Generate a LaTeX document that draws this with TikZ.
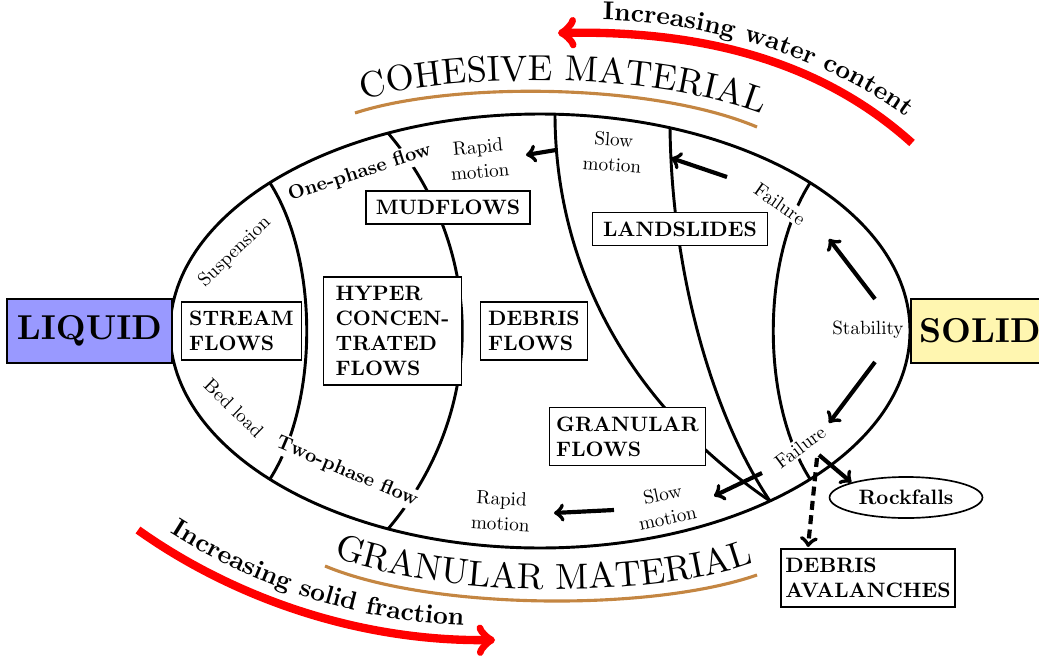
\documentclass[tikz,border=0pt]{standalone}
\usetikzlibrary{decorations.text,shapes.geometric}
\definecolor{liq}{RGB}{153,153,255}
\definecolor{sol}{RGB}{255,246,176}
\definecolor{arcbrown}{RGB}{196,134,66}
\font\ftitle=cmr10 at 17.4pt
\font\fred=cmbx10 at 12.4pt
\font\flbl=cmr10 at 9.2pt
\font\flblb=cmbx10 at 9.4pt
\font\fboxt=cmbx10 at 10pt
\font\fbig=cmbx10 at 16.6pt
\begin{document}
\begin{tikzpicture}[x=0.48pt,y=-0.48pt,
  box/.style={draw, line width=0.8pt, font=\fboxt, align=left, inner ysep=4.5pt, inner xsep=4pt, fill=white},
  lbl/.style={font=\flbl, inner sep=1pt},
  wlbl/.style={font=\flbl, inner sep=1pt, fill=white},
  curve/.style={line width=1.4pt},
  flowarrow/.style={line width=2pt,->},
  redarrow/.style={red, line width=4pt,->},
  arcline/.style={arcbrown, line width=1.5pt},
]
\useasboundingbox (0,0) rectangle (1039,656);

% main ellipse
\node[draw, ellipse, curve, minimum width=355.2pt, minimum height=208.3pt, inner sep=0pt] (E) at (540,331) {};

% dividing curves
\draw[curve] (270,183) .. controls (319,260) and (319,402) .. (270,479);
\draw[curve] (388,133) .. controls (487,250) and (487,412) .. (388,529);
\draw[curve] (555,114) .. controls (555,250) and (615,395) .. (770,501);
\draw[curve] (670,128) .. controls (672,285) and (718,425) .. (770,501);
\draw[curve] (810,183) .. controls (761,260) and (761,402) .. (810,479);

% labels on the curves
\node[wlbl, font=\flblb, rotate=18] (one) at (360,173) {One-phase flow};
\node[wlbl, font=\flblb, rotate=-23] (two) at (347,472) {Two-phase flow};
\node[lbl, rotate=44] (susp) at (235,252) {Suspension};
\node[lbl, rotate=-44] (bed) at (234,408) {Bed load};
\node[wlbl, rotate=-35] (failA) at (780,204) {Failure};
\node[wlbl, rotate=37] (failB) at (800,447) {Failure};
\node[lbl] (stab) at (868,330) {Stability};
\node[lbl, align=center, rotate=5] (rapA) at (479,159) {Rapid\\motion};
\node[lbl, align=center, rotate=-4] (slowA) at (613,152) {Slow\\motion};
\node[lbl, align=center, rotate=-3] (rapB) at (501,511) {Rapid\\motion};
\node[lbl, align=center, rotate=12] (slowB) at (665,506) {Slow\\motion};

% boxes
\node[box, fill=liq, font=\fbig, minimum width=79pt, minimum height=30.5pt] (liquid) at (89.5,331) {LIQUID};
\node[box, fill=sol, font=\fbig, anchor=west, minimum height=30.5pt, inner xsep=4pt] (solid) at (910,331) {SOLID};
\node[box, inner xsep=3.7pt] (stream) at (241.5,331) {STREAM\\FLOWS};
\node[box, inner xsep=5.8pt] (hyper) at (392.5,331) {HYPER\\CONCEN-\\TRATED\\FLOWS};
\node[box, inner xsep=3.7pt] (debris) at (534,331) {DEBRIS\\FLOWS};
\node[box, inner xsep=4.6pt] (mud) at (448,207.5) {MUDFLOWS};
\node[box, inner xsep=5.1pt] (land) at (680,229) {LANDSLIDES};
\node[box, inner xsep=3.2pt] (gran) at (627.5,436.5) {GRANULAR\\FLOWS};
\node[box, inner xsep=2.2pt] (aval) at (868,578) {DEBRIS\\AVALANCHES};
\node[draw, ellipse, line width=0.8pt, font=\fboxt, minimum width=73.4pt, minimum height=19.7pt, inner sep=0pt] (rock) at (906,497.5) {Rockfalls};

% black arrows
\coordinate (a1s) at (556,150); \coordinate (a1e) at (526,155);
\coordinate (a2s) at (727,177); \coordinate (a2e) at (671,158);
\coordinate (a3s) at (875,299); \coordinate (a3e) at (829,239);
\coordinate (a4s) at (875,362); \coordinate (a4e) at (829,423);
\coordinate (a5s) at (762,473); \coordinate (a5e) at (714,496);
\coordinate (a6s) at (614,510); \coordinate (a6e) at (554,513);
\coordinate (a7s) at (819,455); \coordinate (a8s) at (817,458);
\coordinate (a8e) at (808,547);
\draw[flowarrow] (a1s) -- (a1e);
\draw[flowarrow] (a2s) -- (a2e);
\draw[flowarrow] (a3s) -- (a3e);
\draw[flowarrow] (a4s) -- (a4e);
\draw[flowarrow] (a5s) -- (a5e);
\draw[flowarrow] (a6s) -- (a6e);
\draw[flowarrow] (a7s) -- (rock.north west);
\draw[flowarrow, dash pattern=on 4.3pt off 2.6pt] (a8s) -- (a8e);

% material arcs and titles
\draw[arcline] (355,113) .. controls (450,82) and (650,82) .. (757,127);
\path[decorate, decoration={text along path, text={|\ftitle|COHESIVE MATERIAL}, text align=center}]
  (360,100) .. controls (455,72) and (655,72) .. (764,115);
\draw[arcline] (325,566) .. controls (430,610) and (650,612) .. (757,575);
\path[decorate, decoration={text along path, text={|\ftitle|GRANULAR MATERIAL}, text align=center}]
  (335,557) .. controls (440,598) and (650,600) .. (752,563);

% red arrows
\draw[redarrow] (912,143) .. controls (820,60) and (700,30) .. (558,33);
\path[decorate, decoration={text along path, text={|\fred|Increasing water content}, text align=center}]
  (585,20) .. controls (700,18) and (835,58) .. (920,128);
\draw[redarrow] (138,530) .. controls (225,592) and (350,642) .. (495,640);
\path[decorate, decoration={text along path, text={|\fred|Increasing solid fraction}, text align=center}]
  (146,517) .. controls (233,578) and (355,628) .. (492,626);
\end{tikzpicture}
\end{document}
